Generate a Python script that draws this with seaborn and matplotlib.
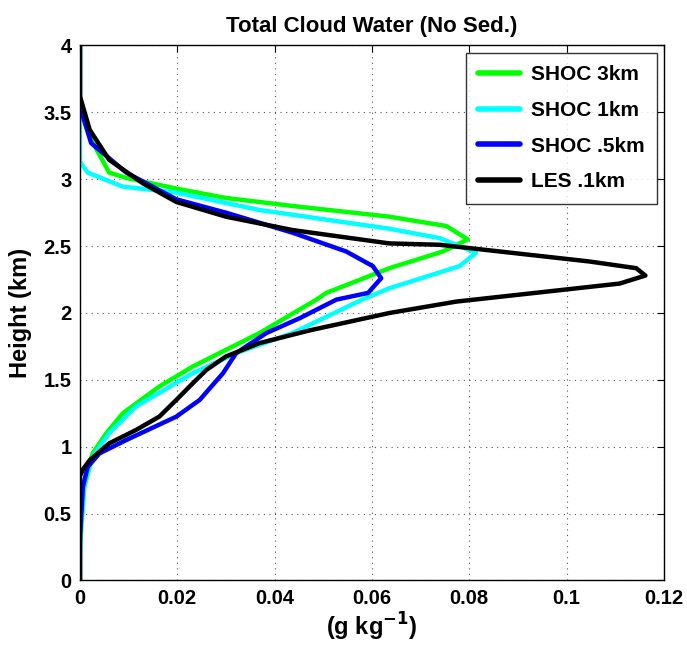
import numpy as np
import pandas as pd
import matplotlib
matplotlib.use("Agg")
import matplotlib.pyplot as plt
import seaborn as sns

# ---- data ----
shoc3_x = [0, 0, 0.0002, 0.0009, 0.0026, 0.0054, 0.0088, 0.0163, 0.0232, 0.0369, 0.0486, 0.0506, 0.0636,
           0.0746, 0.0797, 0.0753, 0.0636, 0.0437, 0.030, 0.0198, 0.0095, 0.006, 0.0024, 0, 0]
shoc3_y = [0, 0.3, 0.48, 0.75, 0.95, 1.10, 1.25, 1.45, 1.60, 1.85, 2.10, 2.15, 2.335,
           2.46, 2.55, 2.65, 2.72, 2.80, 2.86, 2.93, 3.01, 3.05, 3.29, 3.54, 4.0]

shoc1_x = [0, 0, 0.0002, 0.0009, 0.0026, 0.006, 0.0115, 0.0232, 0.0321, 0.0437, 0.058, 0.0636,
           0.078, 0.0814, 0.0739, 0.0636, 0.0369, 0.0198, 0.0088, 0.0016, 0, 0, 0]
shoc1_y = [0, 0.2, 0.35, 0.70, 0.925, 1.10, 1.30, 1.55, 1.70, 1.85, 2.10, 2.185,
           2.35, 2.45, 2.56, 2.63, 2.77, 2.90, 2.945, 3.05, 3.13, 3.5, 4.0]

shoc05_x = [0, 0, 0.0002, 0.0006, 0.0016, 0.004, 0.0095, 0.0198, 0.0246, 0.0294, 0.0321, 0.0383,
            0.0451, 0.0527, 0.0592, 0.0619, 0.0602, 0.0547, 0.0437, 0.030, 0.0198, 0.0095, 0.0023, 0, 0]
shoc05_y = [0, 0.3, 0.45, 0.70, 0.85, 0.95, 1.05, 1.225, 1.35, 1.55, 1.70, 1.85,
            1.96, 2.10, 2.15, 2.26, 2.35, 2.46, 2.60, 2.75, 2.85, 3.05, 3.27, 3.54, 4.0]

les_x = [0, 0, 0.0006, 0.002, 0.006, 0.0115, 0.0163, 0.0198, 0.0232, 0.026, 0.030, 0.0369, 0.0472,
         0.0636, 0.0773, 0.1109, 0.1162, 0.1143, 0.1047, 0.0739, 0.0636, 0.0437, 0.030, 0.0198,
         0.0129, 0.006, 0.002, 0, 0]
les_y = [0, 0.78, 0.83, 0.90, 1.025, 1.125, 1.225, 1.35, 1.475, 1.575, 1.675, 1.775, 1.87,
         2.00, 2.085, 2.22, 2.28, 2.335, 2.385, 2.51, 2.52, 2.62, 2.72, 2.83,
         2.97, 3.145, 3.37, 3.62, 4.0]

labels = ["SHOC 3km", "SHOC 1km", "SHOC .5km", "LES .1km"]
colors = ["#00ff00", "#00ffff", "#0000ff", "#000000"]
xticks = [0, 0.02, 0.04, 0.06, 0.08, 0.1, 0.12]
xticklabels = ["0", "0.02", "0.04", "0.06", "0.08", "0.1", "0.12"]
yticks = [0, 0.5, 1, 1.5, 2, 2.5, 3, 3.5, 4]
yticklabels = ["0", "0.5", "1", "1.5", "2", "2.5", "3", "3.5", "4"]

frames = []
for lab, xs, ys in zip(labels, [shoc3_x, shoc1_x, shoc05_x, les_x],
                       [shoc3_y, shoc1_y, shoc05_y, les_y]):
    frames.append(pd.DataFrame({"x": xs, "y": ys, "series": lab, "order": range(len(xs))}))
df = pd.concat(frames, ignore_index=True)

sns.set_style("white")
plt.rcParams["font.family"] = ["Liberation Sans", "DejaVu Sans"]
plt.rcParams["font.weight"] = "bold"
plt.rcParams["text.color"] = "black"
plt.rcParams["axes.labelcolor"] = "black"
plt.rcParams["xtick.color"] = "black"
plt.rcParams["ytick.color"] = "black"

fig = plt.figure(figsize=(6.87, 6.47), dpi=100)
ax = fig.add_axes([0.1164, 0.1028, 0.85, 0.8269])

sns.lineplot(data=df, x="x", y="y", hue="series", hue_order=labels,
             palette=dict(zip(labels, colors)), sort=False, estimator=None,
             units="series", linewidth=3.2, ax=ax, legend=True)

ax.set_xlim(0, 0.12)
ax.set_ylim(0, 4)
ax.set_xticks(xticks)
ax.set_xticklabels(xticklabels)
ax.set_yticks(yticks)
ax.set_yticklabels(yticklabels)
ax.tick_params(direction="in", top=True, right=True, length=5, width=0.8,
               labelsize=14.5, pad=6, colors="black")
for t in ax.get_xticklabels() + ax.get_yticklabels():
    t.set_fontweight("bold")
ax.grid(True, linestyle=(0, (1, 4)), color="#555555", linewidth=0.8)
for s in ax.spines.values():
    s.set_color("black")
    s.set_linewidth(1.0)

ax.set_xlabel("(g kg$^{\\mathbf{-1}}$)", fontsize=17, fontweight="bold", labelpad=2, color="black")
ax.set_ylabel("Height (km)", fontsize=17, fontweight="bold", labelpad=8, color="black")
ax.set_title("Total Cloud Water (No Sed.)", fontsize=16, fontweight="bold", pad=10, color="black")

leg = ax.legend(loc="upper right", fontsize=15, frameon=True, fancybox=False,
                edgecolor="black", handlelength=2.0, handletextpad=0.5,
                labelspacing=0.8, borderpad=0.6, borderaxespad=0.35)
leg.get_frame().set_linewidth(1.0)
for line in leg.get_lines():
    line.set_linewidth(4)
for t in leg.get_texts():
    t.set_fontweight("bold")
    t.set_color("black")

fig.savefig("out.png", dpi=100)
